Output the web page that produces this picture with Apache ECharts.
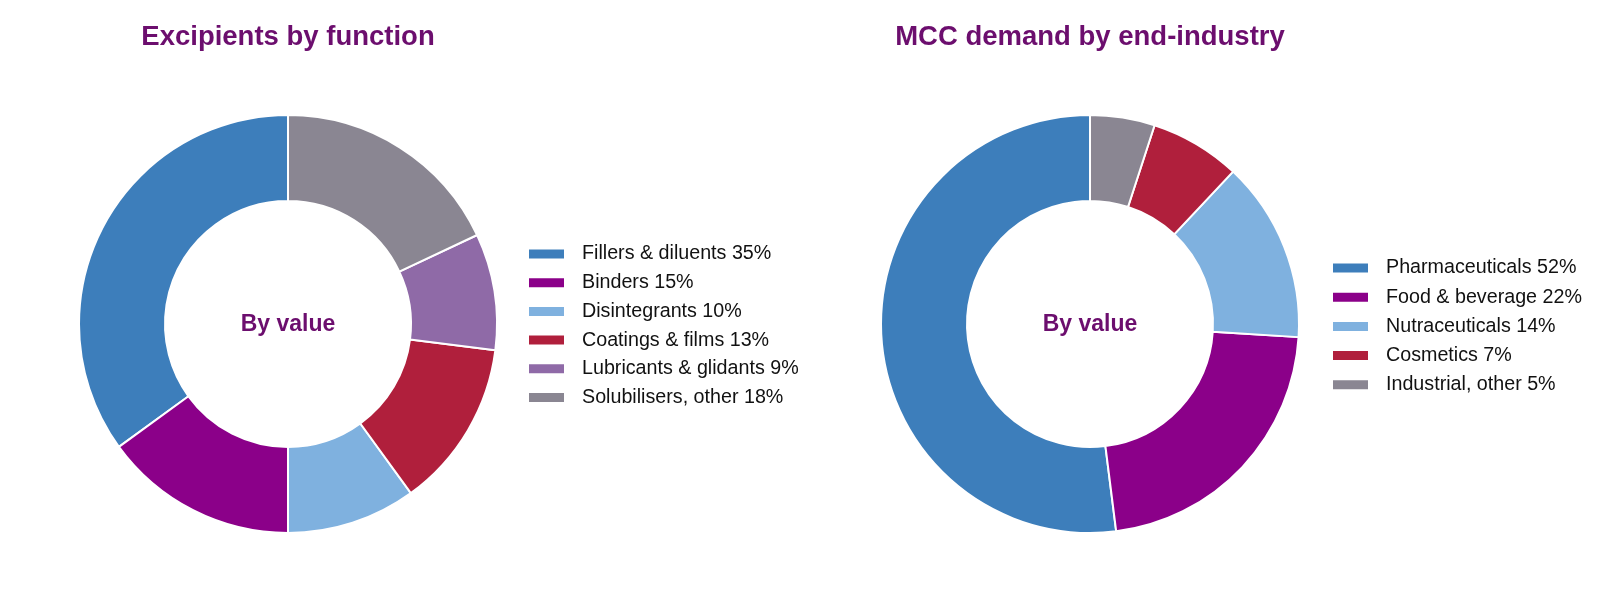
<!DOCTYPE html>
<html>
<head>
<meta charset="utf-8">
<title>Excipients and MCC demand</title>
<script src="https://cdn.jsdelivr.net/npm/echarts@6/dist/echarts.min.js"></script>
<style>
  html, body { margin: 0; padding: 0; background: #fff; }
  #chart { width: 1615px; height: 612px; }
</style>
</head>
<body>
<div id="chart"></div>
<script>
// ===== data =====
const excipientNames = ['Fillers & diluents', 'Binders', 'Disintegrants', 'Coatings & films', 'Lubricants & glidants', 'Solubilisers, other']
const excipientValues = [35, 15, 10, 13, 9, 18]
const excipientColors = ['#3d7ebb', '#8b0089', '#7fb1df', '#b01f3c', '#8f6aa7', '#8a8692']

const mccNames = ['Pharmaceuticals', 'Food & beverage', 'Nutraceuticals', 'Cosmetics', 'Industrial, other']
const mccValues = [52, 22, 14, 7, 5]
const mccColors = ['#3d7ebb', '#8b0089', '#7fb1df', '#b01f3c', '#8a8692']

const FONT = '"Liberation Sans", Arial, Helvetica, sans-serif'
const PURPLE = '#6c0e6e'

const chart = echarts.init(document.getElementById('chart'), null, { renderer: 'canvas' })

function pieData(names, values, colors) {
  return names.map((n, i) => ({ name: n, value: values[i], itemStyle: { color: colors[i] } }))
}

function legendFor(names, values, left, top, gap) {
  const lookup = {}
  names.forEach((n, i) => { lookup[n] = values[i] })
  return {
    orient: 'vertical',
    left: left,
    top: top,
    padding: 0,
    data: names,
    icon: 'rect',
    itemWidth: 37,
    itemHeight: 11,
    itemGap: gap,
    selectedMode: false,
    formatter: (name) => `${name} ${lookup[name]}%`,
    textStyle: { fontFamily: FONT, fontSize: 19.7, color: '#111', lineHeight: 20, padding: [0, 0, 0, 12] },
  }
}

function titleAt(text, x, y, size) {
  return {
    text: text,
    left: x,
    top: y,
    padding: 0,
    textAlign: 'center',
    textStyle: { fontFamily: FONT, fontSize: size, fontWeight: 'bold', color: PURPLE },
  }
}

const option = {
  animation: false,
  title: [
    titleAt('Excipients by function', 288, 23, 27.5),
    titleAt('MCC demand by end-industry', 1090, 23, 27.5),
    { ...titleAt('By value', 288, 325, 23), textVerticalAlign: 'middle' },
    { ...titleAt('By value', 1090, 325, 23), textVerticalAlign: 'middle' },
  ],
  legend: [
    legendFor(excipientNames, excipientValues, 527, 244, 8.7),
    legendFor(mccNames, mccValues, 1331, 258, 9.2),
  ],
  series: [
    {
      type: 'pie',
      center: [288, 324],
      radius: [123, 209],
      startAngle: 90,
      clockwise: false,
      label: { show: false },
      labelLine: { show: false },
      silent: true,
      itemStyle: { borderColor: '#fff', borderWidth: 2 },
      data: pieData(excipientNames, excipientValues, excipientColors),
    },
    {
      type: 'pie',
      center: [1090, 324],
      radius: [123, 209],
      startAngle: 90,
      clockwise: false,
      label: { show: false },
      labelLine: { show: false },
      silent: true,
      itemStyle: { borderColor: '#fff', borderWidth: 2 },
      data: pieData(mccNames, mccValues, mccColors),
    },
  ],
}

chart.setOption(option)
</script>
</body>
</html>
